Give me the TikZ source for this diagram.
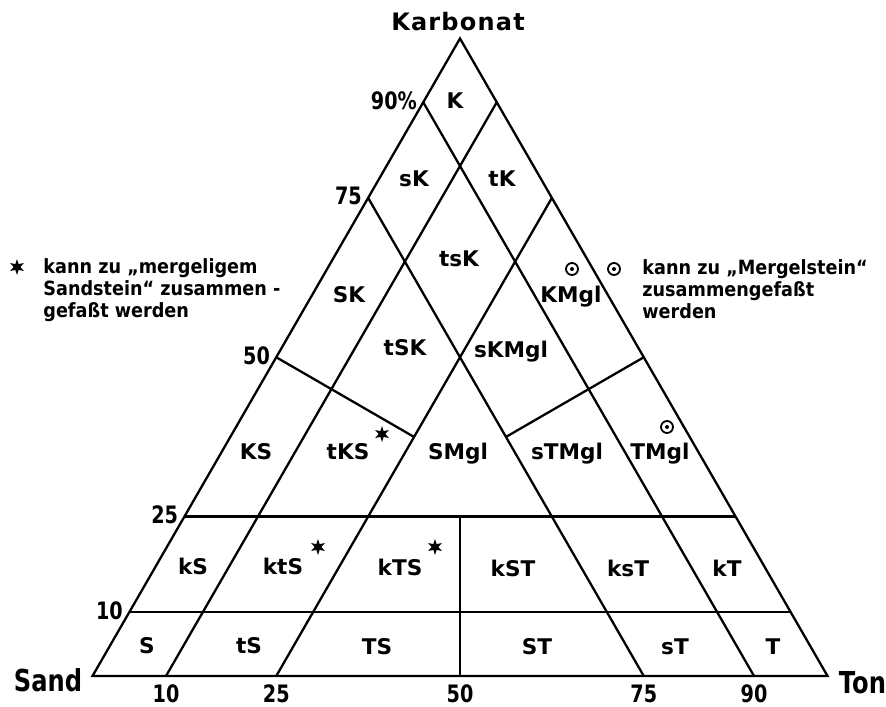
\documentclass[tikz,border=0pt]{standalone}
\usepackage{fontspec}
\setmainfont{DejaVu Sans}
\newfontfamily\fieldfont{DejaVu Sans Bold}
\newfontfamily\titlefont{DejaVu Sans Bold}[LetterSpace=5]
\newfontfamily\numfont{DejaVu Sans Bold}[FakeStretch=0.8]
\newfontfamily\notefont{DejaVu Sans Bold}[FakeStretch=0.9]
\usetikzlibrary{shapes.geometric}
\tikzset{
  edge/.style     = {line width=1.15pt, line join=miter},
  field/.style    = {font=\fieldfont\fontsize{10.8}{12}\selectfont, inner sep=0pt, anchor=base},
  tick/.style     = {font=\numfont\fontsize{12}{14}\selectfont, inner sep=0pt},
  corner/.style   = {font=\numfont\fontsize{15.1}{17}\selectfont, inner sep=0pt},
  title/.style    = {font=\titlefont\fontsize{12}{14}\selectfont, inner sep=0pt},
  note/.style     = {font=\notefont\fontsize{9.8}{11}\selectfont, align=left, inner sep=0pt,
                     anchor=base west},
  starmark/.style = {star, star points=6, star point ratio=2.4, fill=black,
                     minimum size=8pt, inner sep=0pt},
  dotmark/.style  = {circle, draw, line width=0.9pt, minimum size=6pt, inner sep=0pt,
                     path picture={\fill (path picture bounding box.center) circle (1pt);}}
}
% point of the triangle from Ton % and Karbonat %
\newcommand{\tern}[3]{\coordinate (#1) at ({92.5+7.35*(#2+#3/2)},{676-6.375*#3});}

\begin{document}
\begin{tikzpicture}[x=0.5pt, y=-0.5pt]
\useasboundingbox (0,0) rectangle (886,706);
% ---- Points (Ton %, Karbonat %) ----
\foreach \name/\tv/\kv in {%
  vS/0/0, vT/100/0, vK/0/100,
  k90l/0/90, k75l/0/75, k50l/0/50, k25l/0/25, k10l/0/10,
  k90r/10/90, k75r/25/75, k50r/50/50, k25r/75/25, k10r/90/10,
  t10/10/0, t25/25/0, t50/50/0, t75/75/0, t90/90/0,
  jS/25/37.5, jT/37.5/37.5, jM/37.5/25} {
  \tern{\name}{\tv}{\kv}
}

% ---- Triangle and field boundaries ----
\draw[edge] (vS) -- (vT) -- (vK) -- cycle;
\draw[edge] (k25l) -- (k25r);
\draw[edge] (k10l) -- (k10r);
\draw[edge] (t10) -- (k90r);
\draw[edge] (t25) -- (k75r);
\draw[edge] (k90l) -- (t90);
\draw[edge] (k75l) -- (t75);
\draw[edge] (k50l) -- (jS);
\draw[edge] (k50r) -- (jT);
\draw[edge] (t50) -- (jM);

% ---- Field names ----
\foreach \cx/\cy/\name/\txt in {%
  455/108/fK/K,
  414/186.5/fsK/sK, 502/186.5/ftK/tK,
  459/266.5/ftsK/tsK,
  349/302.6/fSK/SK, 571/302.6/fKMgl/KMgl,
  405/355/ftSK/tSK, 511/357/fsKMgl/sKMgl,
  256/459/fKS/KS, 348/459/ftKS/tKS, 458/459.5/fSMgl/SMgl,
  567/459.5/fsTMgl/sTMgl, 660/459.5/fTMgl/TMgl,
  193/574/fkS/kS, 283/574/fktS/ktS, 400/575/fkTS/kTS,
  513/576/fkST/kST, 628/576/fksT/ksT, 727/576/fkT/kT,
  147/653.5/fS/S, 249/653.5/ftS/tS, 377/654/fTS/TS,
  537/654/fST/ST, 675/654/fsT/sT, 773/654/fT/T} {
  \node[field] (\name) at (\cx,\cy) {\txt};
}

% ---- Marks ----
\node[starmark] (mtKS) at (382,434) {};
\node[starmark] (mktS) at (318,547) {};
\node[starmark] (mkTS) at (435,547) {};
\node[dotmark] (mKMgl) at (572,269) {};
\node[dotmark] (mTMgl) at (667,427) {};

% ---- Scales ----
\foreach \pt/\lab in {k90l/90\%, k75l/75, k50l/50, k25l/25, k10l/10} {
  \node[tick, anchor=base east] (n\pt) at ([shift={(-6,7)}]\pt) {\lab};
}
\foreach \pt/\lab in {t10/10, t25/25, t50/50, t75/75, t90/90} {
  \node[tick, anchor=base] (n\pt) at ([shift={(0,26)}]\pt) {\lab};
}
\node[corner, anchor=base east] (lSand) at ([shift={(-10,15)}]vS) {Sand};
\node[corner, anchor=base west] (lTon) at ([shift={(11,17)}]vT) {Ton};
\node[title, anchor=base] (lKarb) at ([shift={(-2,-8)}]vK) {Karbonat};

% ---- Notes ----
\node[starmark] (legS) at (17,267) {};
\node[note] (legStext) at (43,317) {kann zu „mergeligem\\Sandstein“ zusammen -\\gefaßt werden};
\node[dotmark] (legD) at (614,269) {};
\node[note] (legDtext) at (642,318) {kann zu „Mergelstein“\\zusammengefaßt\\werden};
\end{tikzpicture}
\end{document}
